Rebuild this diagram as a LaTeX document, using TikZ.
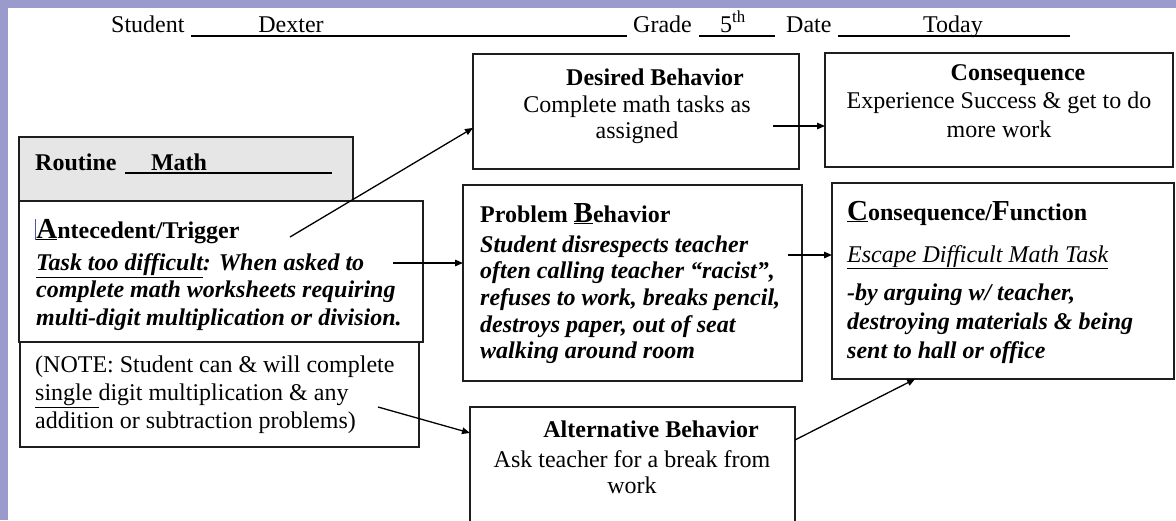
\documentclass[tikz,border=0pt]{standalone}
\usepackage{fontspec}
\setmainfont{Liberation Serif}
\usetikzlibrary{arrows.meta,calc}
\definecolor{framelav}{HTML}{9A9ACC}
\definecolor{routinegray}{HTML}{E6E6E6}
\definecolor{edgecol}{HTML}{1E1E1E}
\definecolor{cursorblue}{HTML}{4A5A9A}
\newcommand\mainsz{\fontsize{24}{27.5}\selectfont}
\newcommand\bigsz{\fontsize{29}{30}\selectfont}
\begin{document}
\begin{tikzpicture}[x=1pt,y=-1pt,
  box/.style={draw=edgecol,line width=1.6pt,rectangle,inner sep=0pt,outer sep=0pt,anchor=north west},
  txt/.style={inner sep=0pt,font=\mainsz},
  body/.style={txt,align=left,anchor=north west},
  cbody/.style={txt,align=center,anchor=north},
  conn/.style={draw=black,line width=1.3pt,-{Triangle[length=8pt,width=6.5pt]}},
  uline/.style={line width=1.3pt}
]
\useasboundingbox (0,0) rectangle (1176,520);
\clip (0,0) rectangle (1176,520);
\fill[white] (0,0) rectangle (1176,520);
\fill[framelav] (0,0) rectangle (1176,8);
\fill[framelav] (0,0) rectangle (8,520);

% header
\node[txt,anchor=base west] (student) at (111,32) {Student};
\node[txt,anchor=base] (dexter) at (291,32) {Dexter};
\node[txt,anchor=base west] (grade) at (633,32) {Grade};
\node[txt,anchor=base] (fifth) at (733,32) {5\textsuperscript{th}};
\node[txt,anchor=base west] (date) at (786,32) {Date};
\node[txt,anchor=base] (today) at (953,32) {Today};
\draw[uline] (191,36) -- (627,36);
\draw[uline] (699,36) -- (775,36);
\draw[uline] (838,36) -- (1070,36);

% boxes
\node[box,fill=routinegray,minimum width=334pt,minimum height=64pt] (routine) at (19,137) {};
\node[box,minimum width=404pt,minimum height=141pt] (ante) at (19,201) {};
\node[box,minimum width=399pt,minimum height=105pt] (note) at (20,342) {};
\node[box,minimum width=326pt,minimum height=115pt] (desired) at (473,54) {};
\node[box,minimum width=348pt,minimum height=114pt] (cons) at (825,53) {};
\node[box,minimum width=339pt,minimum height=196pt] (prob) at (463,185) {};
\node[box,minimum width=342pt,minimum height=196pt] (cf) at (832,183) {};
\node[box,minimum width=325pt,minimum height=123pt] (alt) at (470,407) {};

% routine
\node[txt,anchor=base west,font=\mainsz\bfseries] (routinelbl) at (35,170) {Routine};
\node[txt,anchor=base,font=\mainsz\bfseries] (mathlbl) at (179,170) {Math};
\draw[uline] (125,173) -- (332,173);

% antecedent
\node[txt,anchor=base west,font=\mainsz\bfseries] (antehead) at (35,238)
  {{\color{cursorblue}\rule[-2pt]{1.2pt}{21pt}}\underline{{\bigsz A}}ntecedent/Trigger};
\node[body,font=\mainsz\bfseries\itshape] (antebody) at (36,250.75)
  {\strut\underline{Task too difficult}: When asked to\\
   complete math worksheets requiring\\
   multi-digit multiplication or division.};

% note
\node[body,font=\fontsize{24}{28}\selectfont] (notebody) at (35,352.4)
  {\strut(NOTE: Student can \& will complete\\
   \underline{single\ }digit multiplication \& any\\
   addition or subtraction problems)};

% desired
\node[txt,anchor=base,font=\mainsz\bfseries] (deshead) at (655,85) {Desired Behavior};
\node[cbody,font=\fontsize{24}{26.5}\selectfont] (desbody) at (637,93.45)
  {\strut Complete math tasks as\\ assigned};

% consequence
\node[txt,anchor=base,font=\mainsz\bfseries] (conshead) at (1018,80) {Consequence};
\node[cbody,font=\fontsize{24}{29.5}\selectfont] (consbody) at (999,87.35)
  {\strut Experience Success \& get to do\\ more work};

% problem
\node[txt,anchor=base west,font=\mainsz\bfseries] (probhead) at (480,222)
  {Problem \underline{{\bigsz B}}ehavior};
\node[body,font=\fontsize{24}{26.7}\selectfont\bfseries\itshape] (probbody) at (480,233.3)
  {\strut Student disrespects teacher\\
   often calling teacher “racist”,\\
   refuses to work, breaks pencil,\\
   destroys paper, out of seat\\
   walking around room};

% consequence / function
\node[txt,anchor=base west,font=\mainsz\bfseries] (cfhead) at (847,220)
  {\underline{{\bigsz C}}onsequence/{\bigsz F}unction};
\node[txt,anchor=base west,font=\mainsz\itshape] (cfescape) at (847,262)
  {\underline{Escape Difficult Math Task}};
\node[body,font=\fontsize{24}{29}\selectfont\bfseries\itshape] (cfbody) at (847,279.7)
  {\strut -by arguing w/ teacher,\\
   destroying materials \& being\\
   sent to hall or office};

% alternative
\node[txt,anchor=base,font=\mainsz\bfseries] (althead) at (651,437) {Alternative Behavior};
\node[cbody,font=\fontsize{24}{26.5}\selectfont] (altbody) at (632,448.45)
  {\strut Ask teacher for a break from\\ work};

% connectors
\coordinate (a1s) at (290,237);
\coordinate (a2s) at (393,263);
\coordinate (a3s) at (773,126);
\coordinate (a4s) at (788,255);
\coordinate (a5s) at (378,407);
\draw[conn] (a1s) -- ($(desired.north west)!0.643!(desired.south west)$);
\draw[conn] (a2s) -- (prob.west |- a2s);
\draw[conn] (a3s) -- (cons.west |- a3s);
\draw[conn] (a4s) -- (cf.west |- a4s);
\draw[conn] (a5s) -- ($(alt.north west)!0.211!(alt.south west)$);
\draw[conn] ($(alt.north east)!0.268!(alt.south east)$) -- ($(cf.south west)!0.243!(cf.south east)$);
\end{tikzpicture}
\end{document}
